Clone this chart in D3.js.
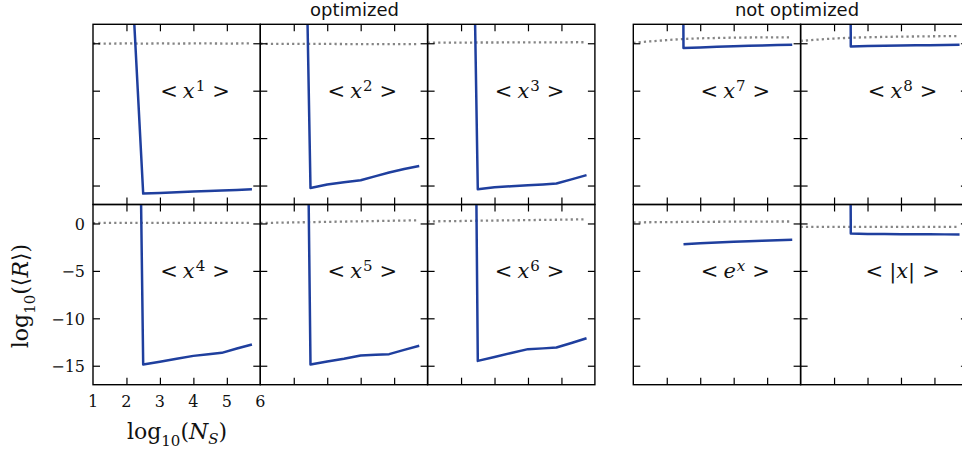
<!DOCTYPE html>
<html><head><meta charset="utf-8">
<script src="https://cdn.jsdelivr.net/npm/d3@7"></script>
<style>body{margin:0;background:#fff}</style>
</head><body><svg id="c" width="962" height="453" xmlns="http://www.w3.org/2000/svg"></svg>
<script>
// ---------- data ----------
const nsX  = [2.0, 2.5, 3.0, 3.5, 4.0, 4.45, 4.85, 5.3, 5.75];
const refX = [1.0, 1.5, 2.0, 2.5, 3.0, 3.5, 4.0, 4.5, 5.0, 5.5, 5.7];

const ns_x1  = [17.8, -15.85, -15.78, -15.71, -15.64, -15.58, -15.53, -15.47, -15.40];
const ns_x2  = [83,   -15.26, -14.90, -14.65, -14.44, -14.01, -13.62, -13.26, -12.94];
const ns_x3  = [93,   -15.40, -15.18, -15.07, -14.96, -14.88, -14.79, -14.35, -13.90];
const ns_x4  = [120,  -14.87, -14.57, -14.27, -13.96, -13.79, -13.64, -13.19, -12.76];
const ns_x5  = [142,  -14.87, -14.55, -14.27, -13.92, -13.85, -13.78, -13.33, -12.90];
const ns_x6  = [187,  -14.49, -14.07, -13.66, -13.25, -13.17, -13.08, -12.60, -12.10];
const ns_x7  = [400,  -0.51, -0.44, -0.38, -0.32, -0.27, -0.23, -0.19, -0.15];
const ns_x8  = [400,  -0.33, -0.30, -0.27, -0.24, -0.22, -0.20, -0.18, -0.16];
const ns_ex  = [null, -2.18, -2.08, -2.00, -1.93, -1.87, -1.82, -1.77, -1.72];
const ns_abs = [400,  -1.05, -1.10, -1.12, -1.13, -1.14, -1.14, -1.15, -1.15];

const ref_x1  = [-0.02, -0.03, -0.02, -0.03, -0.02, -0.03, -0.02, -0.02, -0.03, -0.02, -0.02];
const ref_x2  = [-0.05, -0.06, -0.06, -0.07, -0.07, -0.08, -0.08, -0.09, -0.09, -0.10, -0.10];
const ref_x3  = [0.06, 0.07, 0.07, 0.08, 0.08, 0.09, 0.09, 0.10, 0.10, 0.11, 0.11];
const ref_x4  = [0.04, 0.07, 0.07, 0.07, 0.07, 0.07, 0.07, 0.07, 0.07, 0.07, 0.07];
const ref_x5  = [0.05, 0.08, 0.11, 0.14, 0.17, 0.20, 0.23, 0.26, 0.29, 0.32, 0.33];
const ref_x6  = [0.22, 0.24, 0.26, 0.29, 0.31, 0.33, 0.35, 0.38, 0.40, 0.43, 0.44];
const ref_x7  = [0.05, 0.20, 0.33, 0.45, 0.52, 0.56, 0.59, 0.61, 0.62, 0.63, 0.63];
const ref_x8  = [0.25, 0.38, 0.50, 0.58, 0.63, 0.67, 0.70, 0.72, 0.74, 0.75, 0.76];
const ref_ex  = [0.11, 0.13, 0.14, 0.16, 0.17, 0.18, 0.19, 0.20, 0.20, 0.21, 0.21];
const ref_abs = [-0.36, -0.36, -0.36, -0.36, -0.36, -0.36, -0.36, -0.36, -0.36, -0.36, -0.36];

const labelBase = ["x", "x", "x", "x", "x", "x", "x", "x", "e", "|x|"];
const labelSup  = ["1", "2", "3", "7", "8", "4", "5", "6", "x", ""];
const groupTitles = ["optimized", "not optimized"];
const xTickVals = [1, 2, 3, 4, 5, 6];
const yTickVals = [0, -5, -10, -15];
const xDomain = [1, 6];
const yDomain = [-17, 2];

const nsSeries  = [ns_x1, ns_x2, ns_x3, ns_x7, ns_x8, ns_x4, ns_x5, ns_x6, ns_ex, ns_abs];
const refSeries = [ref_x1, ref_x2, ref_x3, ref_x7, ref_x8, ref_x4, ref_x5, ref_x6, ref_ex, ref_abs];

// ---------- layout ----------
const W = 167.3, H = 180.2;
const colLeft = [93, 260.3, 427.6, 633.3, 800.6];
const rowTop = [24.3, 204.5];
const panelRow = [0, 0, 0, 0, 0, 1, 1, 1, 1, 1];
const panelCol = [0, 1, 2, 3, 4, 0, 1, 2, 3, 4];
const BLUE = "#1f3f9e", GRAY = "#858585";
const SERIF = "'DejaVu Serif', serif";

const svg = d3.select("#c");
svg.append("rect").attr("width", 962).attr("height", 453).attr("fill", "#fff");

const x = d3.scaleLinear().domain(xDomain).range([0, W]);
const y = d3.scaleLinear().domain(yDomain).range([H, 0]);

const lineNs = d3.line().defined(d => d[1] !== null).x(d => x(d[0])).y(d => y(d[1]));
const lineRef = d3.line().curve(d3.curveMonotoneX).x(d => x(d[0])).y(d => y(d[1]));

nsSeries.forEach((ns, i) => {
  const g = svg.append("g").attr("transform", `translate(${colLeft[panelCol[i]]},${rowTop[panelRow[i]]})`);
  const cid = "clip" + i;
  g.append("clipPath").attr("id", cid).append("rect").attr("width", W).attr("height", H);
  const plot = g.append("g").attr("clip-path", `url(#${cid})`);

  plot.append("path")
    .datum(refX.map((v, k) => [v, refSeries[i][k]]))
    .attr("d", lineRef).attr("fill", "none").attr("stroke", GRAY)
    .attr("stroke-width", 2.3).attr("stroke-dasharray", "2.2,3.1");

  plot.append("path")
    .datum(nsX.map((v, k) => [v, ns[k]]))
    .attr("d", lineNs).attr("fill", "none").attr("stroke", BLUE)
    .attr("stroke-width", 2.5).attr("stroke-linejoin", "round");

  // inward ticks
  const tk = 7;
  const axes = [
    d3.axisBottom(x).tickValues([2, 3, 4, 5]).tickSize(tk).tickFormat(""),
    d3.axisTop(x).tickValues([2, 3, 4, 5]).tickSize(tk).tickFormat(""),
    d3.axisRight(y).tickValues(yTickVals).tickSize(tk).tickFormat(""),
    d3.axisLeft(y).tickValues(yTickVals).tickSize(tk).tickFormat("")
  ];
  const trans = ["translate(0,0)", `translate(0,${H})`, "translate(0,0)", `translate(${W},0)`];
  axes.forEach((ax, k) => {
    const a = g.append("g").attr("transform", trans[k]).call(ax);
    a.select(".domain").remove();
    a.selectAll("line").attr("stroke", "#000").attr("stroke-width", 1.2);
  });

  g.append("rect").attr("width", W).attr("height", H)
    .attr("fill", "none").attr("stroke", "#000").attr("stroke-width", 1.4);

  // panel label
  const t = g.append("text").attr("x", x(4.05)).attr("y", y(-5) + 7.5)
    .attr("text-anchor", "middle").attr("font-family", SERIF).attr("font-size", 21).attr("fill", "#111");
  t.append("tspan").text("<");
  if (labelBase[i] === "|x|") {
    t.append("tspan").attr("dx", 6).text("|");
    t.append("tspan").attr("font-style", "italic").text("x");
    t.append("tspan").text("|");
  } else {
    t.append("tspan").attr("dx", 5).attr("font-style", "italic").text(labelBase[i]);
    t.append("tspan").attr("dx", 1).attr("dy", -7.5).attr("font-size", 15)
      .attr("font-style", labelSup[i] === "x" ? "italic" : "normal").text(labelSup[i]);
  }
  t.append("tspan").attr("dx", 7).attr("dy", labelBase[i] === "|x|" ? 0 : 7.5).text(">");

  // tick labels on bottom-left panel only
  if (panelRow[i] === 1 && panelCol[i] === 0) {
    xTickVals.forEach(v => {
      g.append("text").attr("x", x(v)).attr("y", H + 22).attr("text-anchor", "middle")
        .attr("font-family", SERIF).attr("font-size", 16).attr("fill", "#111").text(v);
    });
    yTickVals.forEach(v => {
      g.append("text").attr("x", -8).attr("y", y(v) + 6.5).attr("text-anchor", "end")
        .attr("font-family", SERIF).attr("font-size", 16).attr("fill", "#111")
        .text(v < 0 ? "\u2212" + Math.abs(v) : String(v));
    });
  }
});

// group titles
[[354.5, groupTitles[0]], [797, groupTitles[1]]].forEach(([cx, s]) => {
  svg.append("text").attr("x", cx).attr("y", 16).attr("text-anchor", "middle")
    .attr("font-family", "'DejaVu Sans', sans-serif").attr("font-size", 18).attr("fill", "#111").text(s);
});

// x axis label
const xl = svg.append("text").attr("x", 177).attr("y", 439).attr("text-anchor", "middle")
  .attr("font-family", SERIF).attr("font-size", 22).attr("fill", "#111");
xl.append("tspan").text("log");
xl.append("tspan").attr("dy", 7).attr("font-size", 15).text("10");
xl.append("tspan").attr("dy", -7).text("(");
xl.append("tspan").attr("font-style", "italic").text("N");
xl.append("tspan").attr("dy", 5).attr("font-size", 15).attr("font-style", "italic").text("S");
xl.append("tspan").attr("dy", -5).text(")");

// y axis label
const yl = svg.append("text").attr("transform", "translate(28,296) rotate(-90)").attr("text-anchor", "middle")
  .attr("font-family", SERIF).attr("font-size", 22).attr("fill", "#111");
yl.append("tspan").text("log");
yl.append("tspan").attr("dy", 7).attr("font-size", 15).text("10");
yl.append("tspan").attr("dy", -7).text("(\u27E8");
yl.append("tspan").attr("font-style", "italic").text("R");
yl.append("tspan").text("\u27E9)");
</script></body></html>
